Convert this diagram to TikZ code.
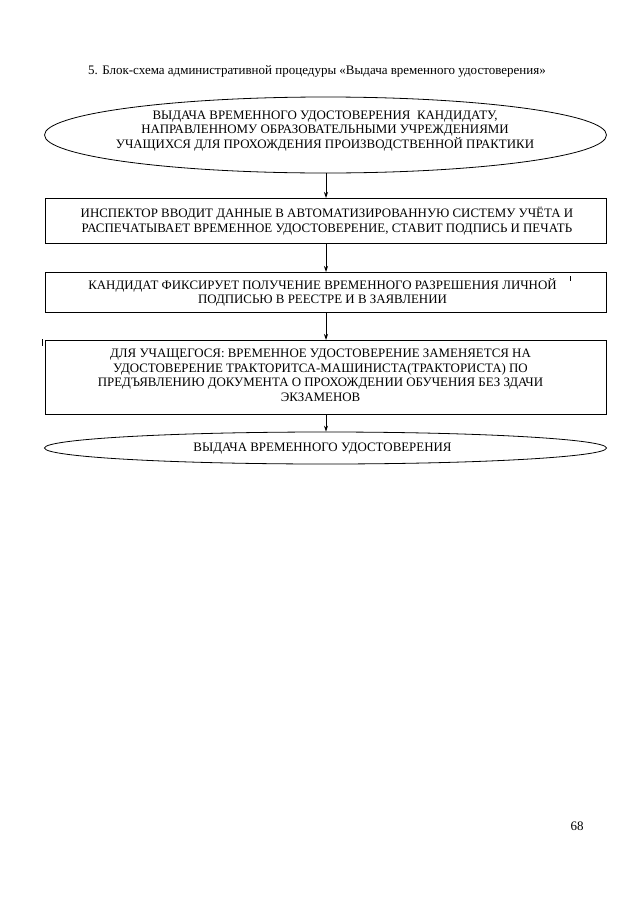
\documentclass[tikz,border=0pt]{standalone}
\usepackage{fontspec}
\setmainfont{Liberation Serif}
\usetikzlibrary{shapes.geometric,arrows.meta}
\begin{document}
\begin{tikzpicture}[x=1pt,y=-1pt,
  every node/.style={inner sep=0pt},
  stepbox/.style={draw, line width=0.8pt, rectangle, minimum width=561pt, anchor=north},
  oval/.style={draw, line width=0.8pt, ellipse, minimum width=562pt},
  txt/.style={align=center, font=\fontsize{12.9}{14.7}\selectfont},
  flow/.style={-{Stealth[length=6pt,width=4pt]}, line width=0.8pt}]
\useasboundingbox (0,0) rectangle (640,905);
\node[font=\fontsize{13}{15}\selectfont] (title) at (317,71) {5. Блок-схема административной процедуры «Выдача временного удостоверения»};
% top ellipse
\node[oval, minimum height=76pt] (e1) at (325.5,135) {};
\node[txt] (t1) at (325,131) {ВЫДАЧА ВРЕМЕННОГО УДОСТОВЕРЕНИЯ\ \ КАНДИДАТУ,\\НАПРАВЛЕННОМУ ОБРАЗОВАТЕЛЬНЫМИ УЧРЕЖДЕНИЯМИ\\УЧАЩИХСЯ ДЛЯ ПРОХОЖДЕНИЯ ПРОИЗВОДСТВЕННОЙ ПРАКТИКИ};
% boxes
\node[stepbox, minimum height=45pt] (b1) at (325.5,198) {};
\node[txt] (t2) at ([xshift=1.5pt]b1.center) {ИНСПЕКТОР ВВОДИТ ДАННЫЕ В АВТОМАТИЗИРОВАННУЮ СИСТЕМУ УЧЁТА И\\РАСПЕЧАТЫВАЕТ ВРЕМЕННОЕ УДОСТОВЕРЕНИЕ, СТАВИТ ПОДПИСЬ И ПЕЧАТЬ};
\node[stepbox, minimum height=40pt] (b2) at (325.5,272) {};
\node[txt] (t3) at ([xshift=-3pt]b2.center) {КАНДИДАТ ФИКСИРУЕТ ПОЛУЧЕНИЕ ВРЕМЕННОГО РАЗРЕШЕНИЯ ЛИЧНОЙ\\ПОДПИСЬЮ В РЕЕСТРЕ И В ЗАЯВЛЕНИИ};
\node[stepbox, minimum height=74pt] (b3) at (325.5,340) {};
\node[txt] (t4) at ([xshift=-5pt,yshift=2pt]b3.center) {ДЛЯ УЧАЩЕГОСЯ: ВРЕМЕННОЕ УДОСТОВЕРЕНИЕ ЗАМЕНЯЕТСЯ НА\\УДОСТОВЕРЕНИЕ ТРАКТОРИТСА-МАШИНИСТА(ТРАКТОРИСТА) ПО\\ПРЕДЪЯВЛЕНИЮ ДОКУМЕНТА О ПРОХОЖДЕНИИ ОБУЧЕНИЯ БЕЗ ЗДАЧИ\\ЭКЗАМЕНОВ};
% bottom ellipse
\node[oval, minimum height=32pt] (e2) at (325.5,448) {};
\node[txt] (t5) at ([xshift=-3pt,yshift=-1pt]e2.center) {ВЫДАЧА ВРЕМЕННОГО УДОСТОВЕРЕНИЯ};
% connectors
\draw[flow] (e1.south -| 326,0) -- (b1.north -| 326,0);
\draw[flow] (b1.south -| 326,0) -- (b2.north -| 326,0);
\draw[flow] (b2.south -| 326,0) -- (b3.north -| 326,0);
\draw[flow] (b3.south -| 326,0) -- (e2.north -| 326,0);
% stray marks
\draw[line width=0.6pt] (42,339) -- (42,346);
\draw[line width=0.5pt] (570,276) -- (570,281);
% page number
\node[font=\fontsize{13}{15}\selectfont] (pg) at (577,826) {68};
\end{tikzpicture}
\end{document}
